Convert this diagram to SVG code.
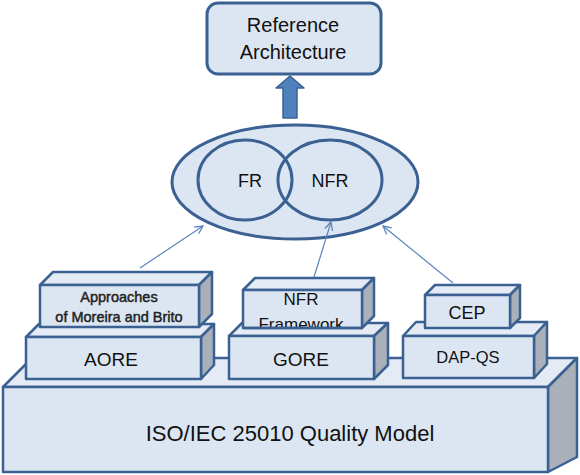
<svg xmlns="http://www.w3.org/2000/svg" width="580" height="475" viewBox="0 0 580 475">
<style>
.front{fill:#dce6f2;stroke:#3b6192;stroke-width:2.5;stroke-linejoin:round}
.top{fill:#e4ebf4;stroke:#3b6192;stroke-width:2.5;stroke-linejoin:round}
.side{fill:#a9b0ba;stroke:#3b6192;stroke-width:2.5;stroke-linejoin:round}
.shape{fill:#dce6f2;stroke:#3b6192;stroke-width:3}
.lbl{font-family:"Liberation Sans",Arial,sans-serif;fill:#111;text-anchor:middle}
.semi{stroke:#222;stroke-width:0.45;fill:#222}
.conn{stroke:#5b84bd;stroke-width:1.2;fill:none}
</style>
<defs>
<marker id="open" markerUnits="userSpaceOnUse" markerWidth="12" markerHeight="12" refX="9" refY="5" orient="auto" viewBox="0 0 12 10">
<path d="M1,1 L9,5 L1,9" fill="none" stroke="#5b84bd" stroke-width="1.3"/>
</marker>
<clipPath id="nfrclip"><rect x="243" y="290" width="119" height="38"/></clipPath>
</defs>

<g id="iso">
<polygon class="top" points="3,387 32,358 577,358 548,387"/>
<polygon class="side" points="548,387 577,358 577,457 548,472"/>
<rect class="front" x="3" y="387" width="545" height="85"/>
<text class="lbl" x="290" y="441" font-size="22">ISO/IEC 25010 Quality Model</text>
</g>

<g id="aore">
<polygon class="top" points="26,337 39,324 214,324 201,337"/>
<polygon class="side" points="201,337 214,324 214,365 201,379"/>
<rect class="front" x="26" y="337" width="175" height="42"/>
<text class="lbl" x="111" y="366" font-size="19">AORE</text>
</g>

<g id="gore">
<polygon class="top" points="229,336 242,323 388,323 374,336"/>
<polygon class="side" points="374,336 388,323 388,365 374,379"/>
<rect class="front" x="229" y="336" width="145" height="43"/>
<text class="lbl" x="301" y="366" font-size="19">GORE</text>
</g>

<g id="dapqs">
<polygon class="top" points="403,336 416,322 547,322 534,336"/>
<polygon class="side" points="534,336 547,322 547,364 534,378"/>
<rect class="front" x="403" y="336" width="131" height="42"/>
<text class="lbl" x="468" y="363" font-size="16.5">DAP-QS</text>
</g>

<g id="approaches">
<polygon class="top" points="40,285 53,272 212,272 199,285"/>
<polygon class="side" points="199,285 212,272 212,314 199,327"/>
<rect class="front" x="40" y="285" width="159" height="42"/>
<text class="lbl semi" x="119" y="302" font-size="14.5">Approaches</text>
<text class="lbl semi" x="119" y="322" font-size="14.5">of Moreira and Brito</text>
</g>

<g id="nfrframework">
<polygon class="top" points="243,290 255,278 374,278 362,290"/>
<polygon class="side" points="362,290 374,278 374,316 362,328"/>
<rect class="front" x="243" y="290" width="119" height="38"/>
<g clip-path="url(#nfrclip)">
<text class="lbl" x="301" y="305" font-size="17">NFR</text>
<text class="lbl" x="301" y="330" font-size="17">Framework</text>
</g>
<line x1="243" y1="328" x2="362" y2="328" stroke="#3b6192" stroke-width="2.5"/>
</g>

<g id="cep">
<polygon class="top" points="425,295 435,285 520,285 510,295"/>
<polygon class="side" points="510,295 520,285 520,318 510,328"/>
<rect class="front" x="425" y="295" width="85" height="33"/>
<text class="lbl" x="467" y="319" font-size="18">CEP</text>
</g>

<g id="requirements">
<ellipse class="shape" cx="295" cy="182" rx="123" ry="57"/>
<ellipse fill="none" stroke="#3b6192" stroke-width="3" cx="245" cy="180" rx="47" ry="40"/>
<ellipse fill="none" stroke="#3b6192" stroke-width="3" cx="330" cy="180" rx="52" ry="40"/>
<text class="lbl" x="250" y="187" font-size="18">FR</text>
<text class="lbl" x="330" y="187" font-size="18">NFR</text>
</g>

<g id="refarch">
<rect class="shape" x="207" y="3" width="174" height="71" rx="11" ry="11"/>
<text class="lbl" x="293" y="32" font-size="20">Reference</text>
<text class="lbl" x="293" y="59" font-size="20">Architecture</text>
</g>

<g id="connectors">
<polygon points="283,118 297,118 297,88 304,88 290,76 276,88 283,88" fill="#4f81bd" stroke="#3b6192" stroke-width="1.5" stroke-linejoin="round"/>
<line class="conn" x1="140" y1="268" x2="203" y2="226" marker-end="url(#open)"/>
<line class="conn" x1="314" y1="277" x2="331" y2="222" marker-end="url(#open)"/>
<line class="conn" x1="453" y1="283" x2="383" y2="226" marker-end="url(#open)"/>
</g>
</svg>
